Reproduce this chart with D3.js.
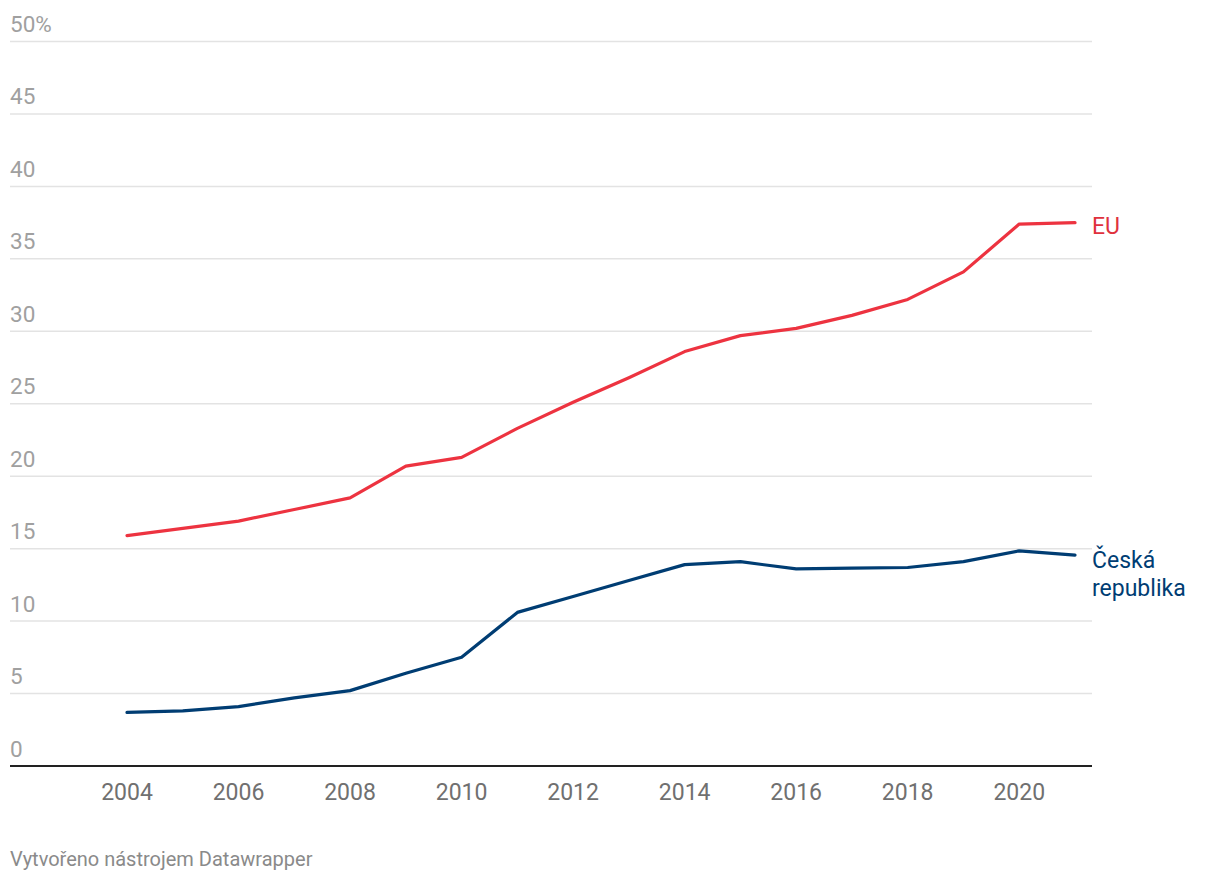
<!DOCTYPE html>
<html><head><meta charset="utf-8">
<script src="https://cdn.jsdelivr.net/npm/d3@7"></script>
<style>
body{margin:0;background:#fff;font-family:Roboto,"Noto Sans",sans-serif;}
</style></head>
<body><svg id="c" width="1220" height="882"></svg>
<script>
const years = [2004,2005,2006,2007,2008,2009,2010,2011,2012,2013,2014,2015,2016,2017,2018,2019,2020,2021];
const euValues = [15.9,16.4,16.9,17.7,18.5,20.7,21.3,23.3,25.1,26.8,28.6,29.7,30.2,31.1,32.2,34.1,37.4,37.5];
const czValues = [3.7,3.8,4.1,4.7,5.2,6.4,7.5,10.6,11.7,12.8,13.9,14.1,13.6,13.65,13.7,14.1,14.85,14.55];
const yTicks = [0,5,10,15,20,25,30,35,40,45,50];
const xTicks = [2004,2006,2008,2010,2012,2014,2016,2018,2020];
const seriesNames = ["EU","Česká republika"];
const footer = "Vytvořeno nástrojem Datawrapper";

const svg = d3.select("#c");
const x = d3.scaleLinear().domain([2004,2021]).range([127,1075]);
const y = d3.scaleLinear().domain([0,50]).range([766,41.5]);
const gridL = 10, gridR = 1092;

svg.append("g").selectAll("line").data(yTicks.filter(d=>d>0)).join("line")
  .attr("x1",gridL).attr("x2",gridR)
  .attr("y1",d=>y(d)).attr("y2",d=>y(d))
  .attr("stroke","#e3e3e3").attr("stroke-width",1.5);

svg.append("g").selectAll("text").data(yTicks).join("text")
  .attr("x",gridL).attr("y",d=>y(d)-9.5)
  .attr("font-size",22.5).attr("fill","#a0a0a0")
  .text(d=>d===50?"50%":d);

svg.append("line").attr("x1",gridL).attr("x2",gridR)
  .attr("y1",y(0)).attr("y2",y(0)).attr("stroke","#222").attr("stroke-width",2);

svg.append("g").selectAll("text").data(xTicks).join("text")
  .attr("x",d=>x(d)).attr("y",800).attr("text-anchor","middle")
  .attr("font-size",23).attr("fill","#707070").text(d=>d);

const line = d3.line().x((d,i)=>x(years[i])).y(d=>y(d));
svg.append("path").datum(euValues).attr("d",line)
  .attr("fill","none").attr("stroke","#ed3340").attr("stroke-width",3.2)
  .attr("stroke-linejoin","round").attr("stroke-linecap","round");
svg.append("path").datum(czValues).attr("d",line)
  .attr("fill","none").attr("stroke","#003d73").attr("stroke-width",3.2)
  .attr("stroke-linejoin","round").attr("stroke-linecap","round");

svg.append("text").attr("x",1092).attr("y",y(euValues[euValues.length-1])+11)
  .attr("font-size",23).attr("fill","#e0313d").text(seriesNames[0]);
const cz = svg.append("text").attr("x",1092).attr("y",y(czValues[czValues.length-1])+13)
  .attr("font-size",23).attr("fill","#003d73");
cz.append("tspan").attr("x",1092).text("Česká");
cz.append("tspan").attr("x",1092).attr("dy",28).text("republika");

svg.append("text").attr("x",10).attr("y",866).attr("font-size",20)
  .attr("fill","#8a8a8a").text(footer);
</script></body></html>
